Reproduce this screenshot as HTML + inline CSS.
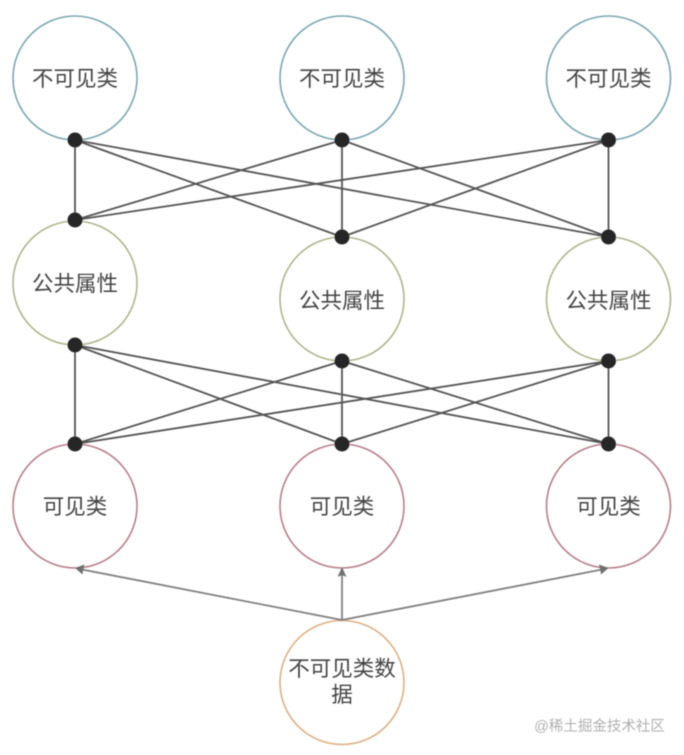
<!DOCTYPE html>
<html>
<head>
<meta charset="utf-8">
<style>
html,body{margin:0;padding:0;background:#fff;width:684px;height:755px;overflow:hidden}
svg{display:block}
text{font-family:"Liberation Sans","Noto Sans CJK SC",sans-serif;font-size:21.5px;fill:#444;text-anchor:middle;dominant-baseline:central}
</style>
</head>
<body>
<svg width="684" height="755" viewBox="0 0 684 755" xmlns="http://www.w3.org/2000/svg">
<defs><filter id="b" x="-5%" y="-5%" width="110%" height="110%"><feGaussianBlur stdDeviation="0.55"/></filter></defs>
<g filter="url(#b)">
<g fill="none" stroke-width="1.6">
<g stroke="#7ba7b3">
<circle cx="75" cy="78" r="62"/><circle cx="342" cy="78" r="62"/><circle cx="608.5" cy="78" r="62"/>
</g>
<g stroke="#b0b58c">
<circle cx="75" cy="283" r="62"/><circle cx="342" cy="299" r="62"/><circle cx="608.5" cy="299" r="62"/>
</g>
<g stroke="#b87f8a">
<circle cx="75" cy="506" r="62"/><circle cx="342" cy="506" r="62"/><circle cx="608.5" cy="506" r="62"/>
</g>
<circle cx="342" cy="682.5" r="62" stroke="#dcb184"/>
</g>
<g stroke="#555" stroke-width="1.8" fill="none">
<path d="M75 140L75 220M75 140L342 237M75 140L608.5 237M342 140L75 220M342 140L342 237M342 140L608.5 237M608.5 140L75 220M608.5 140L342 237M608.5 140L608.5 237"/>
<path d="M75 345L75 444M75 345L342 444M75 345L608.5 444M342 361L75 444M342 361L342 444M342 361L608.5 444M608.5 361L75 444M608.5 361L342 444M608.5 361L608.5 444"/>
</g>
<g fill="#262626">
<circle cx="75" cy="140" r="7.5"/><circle cx="342" cy="140" r="7.5"/><circle cx="608.5" cy="140" r="7.5"/>
<circle cx="75" cy="220" r="7.5"/><circle cx="342" cy="237" r="7.5"/><circle cx="608.5" cy="237" r="7.5"/>
<circle cx="75" cy="345" r="7.5"/><circle cx="342" cy="361" r="7.5"/><circle cx="608.5" cy="361" r="7.5"/>
<circle cx="75" cy="444" r="7.5"/><circle cx="342" cy="444" r="7.5"/><circle cx="608.5" cy="444" r="7.5"/>
</g>
<g stroke="#808080" stroke-width="1.8" fill="none">
<path d="M342 620L82 569.5M342 620L342 574M342 620L602 569.5"/>
</g>
<g fill="#707070">
<path d="M75 568L84.5 564.5L83 570.8L82.5 574.5Z"/>
<path d="M342 567L346.5 577L342 575L337.5 577Z"/>
<path d="M608.5 568L599 564.5L600.5 570.8L601 574.5Z"/>
</g>
<text x="75" y="79">不可见类</text>
<text x="342" y="79">不可见类</text>
<text x="608.5" y="79">不可见类</text>
<text x="75" y="284">公共属性</text>
<text x="342" y="301">公共属性</text>
<text x="608.5" y="301">公共属性</text>
<text x="75" y="507">可见类</text>
<text x="342" y="507">可见类</text>
<text x="608.5" y="507">可见类</text>
<text x="342" y="669">不可见类数</text>
<text x="342" y="695">据</text>
<text x="599.5" y="727" style="font-size:14.5px;fill:#b0b0b0">@稀土掘金技术社区</text>
</g>
</svg>
</body>
</html>
